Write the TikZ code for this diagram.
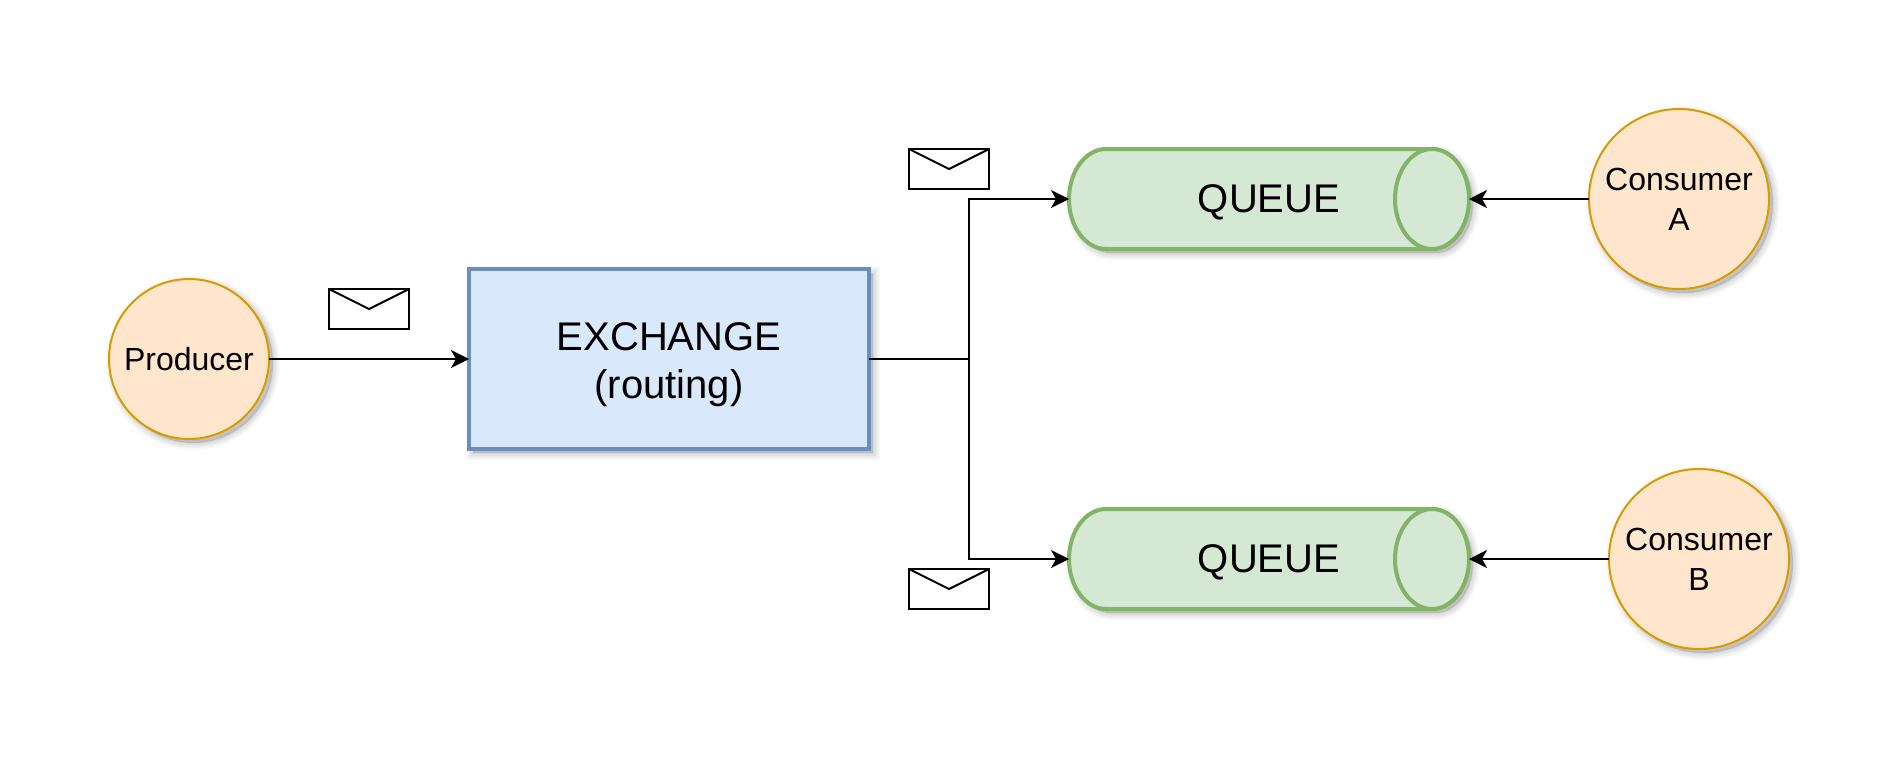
\documentclass[tikz,border=0pt]{standalone}
\usepackage{fontspec}
\setmainfont{Liberation Sans}
\usetikzlibrary{arrows.meta,calc}
\pgfdeclarelayer{bg}
\pgfdeclarelayer{paper}
\pgfsetlayers{paper,bg,main}
\definecolor{orfill}{HTML}{FFE6CC}
\definecolor{orline}{HTML}{D79B00}
\definecolor{blfill}{HTML}{DAE8FC}
\definecolor{blline}{HTML}{6C8EBF}
\definecolor{grfill}{HTML}{D5E8D4}
\definecolor{grline}{HTML}{82B366}
\tikzset{
  softshadow/.style={
    preaction={draw=black,fill=black,opacity=.025,line width=14pt,transform canvas={shift={(4pt,-4pt)}}},
    preaction={draw=black,fill=black,opacity=.03,line width=11pt,transform canvas={shift={(4pt,-4pt)}}},
    preaction={draw=black,fill=black,opacity=.03,line width=8pt,transform canvas={shift={(4pt,-4pt)}}},
    preaction={draw=black,fill=black,opacity=.03,line width=5pt,transform canvas={shift={(4pt,-4pt)}}},
    preaction={draw=black,fill=black,opacity=.03,line width=2pt,transform canvas={shift={(4pt,-4pt)}}},
  },
  person/.style={circle,draw=orline,fill=orfill,line width=2pt,inner sep=0pt,outer sep=0pt,
    align=center,font=\fontsize{32}{40}\selectfont,softshadow},
  exchangebox/.style={rectangle,draw=blline,fill=blfill,line width=4pt,inner sep=0pt,outer sep=0pt,
    minimum width=400pt,minimum height=180pt,align=center,text height=87pt,
    font=\fontsize{40}{48}\selectfont,softshadow},
  queuenode/.style={rectangle,inner sep=0pt,outer sep=0pt,minimum width=400pt,minimum height=100pt,
    text depth=0pt,font=\fontsize{40}{48}\selectfont},
  queuebody/.style={draw=grline,fill=grfill,line width=4pt},
  envelope/.style={rectangle,draw=black,fill=white,line width=2pt,inner sep=0pt,outer sep=0pt,
    minimum width=80pt,minimum height=40pt},
  link/.style={draw=black,line width=2pt},
  arrowlink/.style={link,-{Stealth[length=18pt,width=18pt,inset=5pt]}},
}
\newcommand{\queuedraw}[1]{%
  \begin{pgfonlayer}{bg}
    \draw[queuebody,softshadow] ([xshift=37pt]#1.north west)
      arc[start angle=90,end angle=270,x radius=37pt,y radius=50pt]
      -- ([xshift=-37pt]#1.south east)
      arc[start angle=-90,end angle=90,x radius=37pt,y radius=50pt] -- cycle;
    \draw[queuebody] ([xshift=-37pt]#1.north east)
      arc[start angle=90,end angle=450,x radius=37pt,y radius=50pt];
  \end{pgfonlayer}}
\newcommand{\envelopeflap}[1]{\draw[link,line join=round] (#1.north west) -- (#1.center) -- (#1.north east);}
\begin{document}
\begin{tikzpicture}[x=1pt,y=-1pt]
\begin{pgfonlayer}{paper}
\fill[white] (0,0) rectangle (1902,764);
\end{pgfonlayer}
\useasboundingbox (0,0) rectangle (1902,764);
\node[person,minimum size=160pt] (prod) at (189,359) {Producer};
\node[exchangebox] (ex) at (669,359) {EXCHANGE\\(routing)};
\node[queuenode] (q1) at (1269,199) {QUEUE};
\node[queuenode] (q2) at (1269,559) {QUEUE};
\queuedraw{q1}
\queuedraw{q2}
\node[person,minimum size=180pt] (ca) at (1679,199) {Consumer\\A};
\node[person,minimum size=180pt] (cb) at (1699,559) {Consumer\\B};
\node[envelope] (e1) at (369,309) {};
\node[envelope] (e2) at (949,169) {};
\node[envelope] (e3) at (949,589) {};
\envelopeflap{e1}
\envelopeflap{e2}
\envelopeflap{e3}
\coordinate (j) at (969,359);
\draw[arrowlink] (prod.east) -- (ex.west);
\draw[arrowlink] (ex.east) -- (j) |- (q1.west);
\draw[arrowlink] (j) |- (q2.west);
\draw[arrowlink] (ca.west) -- (q1.east);
\draw[arrowlink] (cb.west) -- (q2.east);
\end{tikzpicture}
\end{document}
